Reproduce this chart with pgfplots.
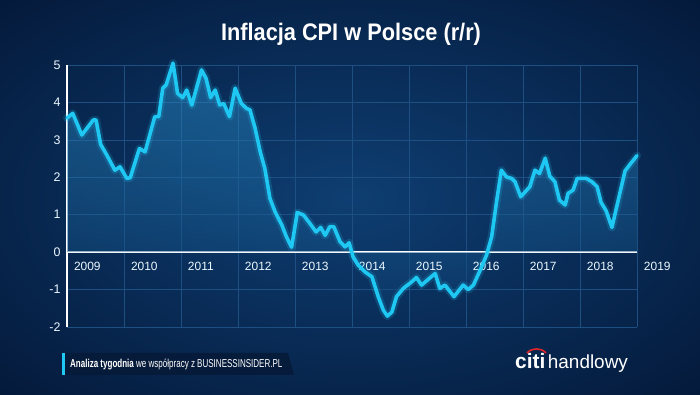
\documentclass[border=0pt]{standalone}
\usepackage{fontspec}
\setmainfont{Liberation Sans}
\usepackage{pgfplots}
\usepackage{pgfplotstable}
\pgfplotsset{compat=1.18}
\definecolor{bgin}{HTML}{0E3E72}
\definecolor{bgout}{HTML}{04193A}
\definecolor{gridc}{HTML}{1D4F82}
\definecolor{linec}{HTML}{1FC7F3}
\definecolor{areatop}{HTML}{2E9AD6}
\definecolor{areabot}{HTML}{0C3A6C}
\definecolor{citired}{HTML}{E0262B}
\definecolor{boxc}{HTML}{061A38}
\pgfdeclareradialshading{bgshade}{\pgfpoint{0bp}{0bp}}{color(0bp)=(bgin); color(36bp)=(bgout); color(50bp)=(bgout)}
\pgfplotsset{
  cpiaxis/.style={
    at={(67bp,68bp)}, anchor=south west,
    scale only axis, width=570bp, height=262bp,
    xmin=2009, xmax=2019, ymin=-2, ymax=5,
    xtick={2009,...,2019}, ytick={-2,...,5},
    axis line style={draw=none},
    major tick length=0pt, tick style={draw=none},
    /pgf/number format/1000 sep={},
    /pgf/number format/assume math mode=true,
    clip=false,
  }
}
\pgfplotstableread{
x y
2009.00 3.58
2009.10 3.71
2009.26 3.13
2009.46 3.53
2009.51 3.53
2009.59 2.88
2009.70 2.59
2009.84 2.19
2009.93 2.28
2010.05 1.97
2010.11 1.99
2010.27 2.77
2010.37 2.68
2010.54 3.62
2010.61 3.62
2010.68 4.38
2010.74 4.47
2010.86 5.05
2010.94 4.24
2011.03 4.13
2011.10 4.33
2011.19 3.93
2011.36 4.87
2011.44 4.64
2011.52 4.13
2011.60 4.33
2011.68 3.93
2011.75 3.97
2011.85 3.62
2011.95 4.38
2012.06 3.97
2012.15 3.84
2012.21 3.80
2012.30 3.31
2012.39 2.68
2012.47 2.24
2012.56 1.44
2012.65 1.08
2012.77 0.72
2012.85 0.41
2012.94 0.13
2013.04 1.06
2013.15 0.99
2013.26 0.77
2013.37 0.54
2013.45 0.66
2013.53 0.45
2013.61 0.68
2013.68 0.68
2013.79 0.28
2013.88 0.14
2013.95 0.25
2014.02 -0.13
2014.11 -0.35
2014.23 -0.53
2014.35 -0.66
2014.46 -1.19
2014.55 -1.55
2014.62 -1.71
2014.70 -1.60
2014.78 -1.19
2014.90 -0.97
2015.05 -0.79
2015.13 -0.68
2015.22 -0.88
2015.46 -0.57
2015.54 -0.97
2015.63 -0.88
2015.79 -1.19
2015.95 -0.88
2016.04 -1.00
2016.13 -0.88
2016.25 -0.48
2016.36 -0.08
2016.45 0.41
2016.54 1.39
2016.62 2.19
2016.71 2.01
2016.80 1.97
2016.86 1.88
2016.96 1.48
2017.12 1.75
2017.21 2.19
2017.29 2.10
2017.39 2.51
2017.47 2.03
2017.56 1.88
2017.64 1.39
2017.74 1.26
2017.79 1.57
2017.88 1.66
2017.95 1.97
2018.11 1.97
2018.21 1.88
2018.30 1.75
2018.37 1.33
2018.46 1.10
2018.56 0.66
2018.68 1.45
2018.79 2.17
2018.90 2.39
2019.00 2.58
}\cpidata
\begin{document}
\begin{tikzpicture}
\useasboundingbox (0,0) rectangle (700bp,395bp);
\fill[shading=bgshade] (0,0) rectangle (700bp,395bp);
% title
\node[text=white, font=\fontsize{24}{26}\selectfont\bfseries] at (351bp,361bp) {\scalebox{0.91}[1]{Inflacja CPI w Polsce (r/r)}};
% grid axis
\begin{axis}[cpiaxis,
  grid=major, grid style={color=gridc, line width=0.7bp},
  xticklabels={}, yticklabels={},
  extra y ticks={0}, extra y tick labels={},
  extra y tick style={grid style={white, line width=2.6bp}},
  extra x ticks={2009}, extra x tick labels={},
  extra x tick style={grid style={white, line width=2bp}},
]
\end{axis}
% area axis
\begin{axis}[cpiaxis, xticklabels={}, yticklabels={}]
\addplot[draw=none, shading=axis, top color=areatop, bottom color=areabot, fill opacity=0.45] table[x=x,y=y] {\cpidata} \closedcycle;
\end{axis}
% labels + line axis
\begin{axis}[cpiaxis,
  yticklabel style={text=white!92!cyan, font=\fontsize{12.5}{14}\selectfont, xshift=-3bp},
  xticklabel style={text=white!92!cyan, font=\fontsize{12}{14}\selectfont, anchor=north west, xshift=3.5bp, yshift=68bp},
]
\addplot[draw=linec, line width=8bp, opacity=0.18, line join=round, line cap=round] table[x=x,y=y] {\cpidata};
\addplot[draw=linec, line width=3.6bp, line join=round, line cap=round] table[x=x,y=y] {\cpidata};
\end{axis}
% footer
\fill[boxc, opacity=0.85] (64bp,42bp) -- (288bp,42bp) -- (294bp,20bp) -- (64bp,20bp) -- cycle;
\fill[linec] (62bp,20bp) rectangle (64.5bp,42bp);
\node[anchor=west, text=white, font=\fontsize{11.5}{13}\selectfont, inner sep=0pt] at (70bp,31bp) {\scalebox{0.70}[1]{\textbf{Analiza tygodnia} we współpracy z BUSINESSINSIDER.PL}};
\node[anchor=base west, text=white, inner sep=0pt] at (515bp,27bp) {{\fontsize{21}{22}\selectfont\textbf{citi}}\hspace{2.5bp}{\fontsize{19}{22}\selectfont handlowy}};
\draw[citired, line width=1.6bp] (527bp,42bp) .. controls (532bp,47.5bp) and (541bp,47.5bp) .. (546bp,42bp);
\end{tikzpicture}
\end{document}
